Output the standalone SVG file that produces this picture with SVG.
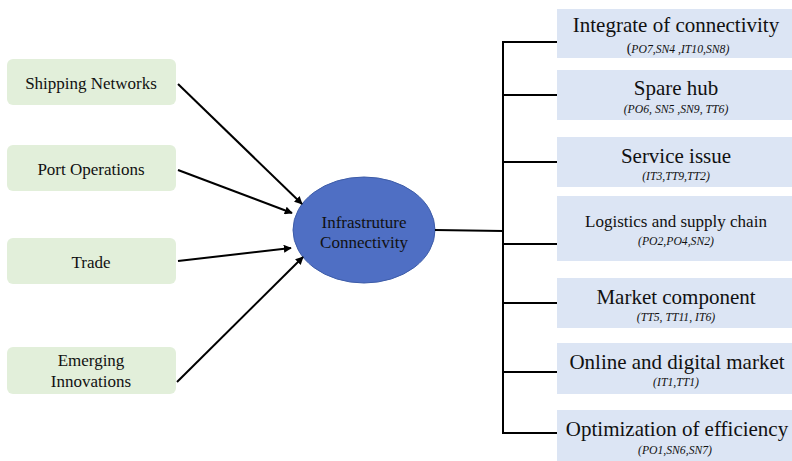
<svg xmlns="http://www.w3.org/2000/svg" width="792" height="461" viewBox="0 0 792 461" font-family="'Liberation Serif', 'DejaVu Serif', 'Times New Roman', serif">
  <style>
    .src rect { fill: #e2efda; }
    .out rect { fill: #dce5f4; }
    text { fill: #111; text-anchor: middle; }
    .lbl { font-size: 17px; }
    .ttl { font-size: 21px; }
    .sub { font-size: 11.7px; font-style: italic; }
    .conn { stroke: #000; stroke-width: 2; fill: none; }
    .arr { stroke: #000; stroke-width: 2; fill: none; marker-end: url(#head); }
  </style>
  <defs>
    <marker id="head" viewBox="0 0 10 10" refX="9" refY="5" markerWidth="4" markerHeight="4" orient="auto" markerUnits="strokeWidth">
      <path d="M0,0 L10,5 L0,10 z" fill="#000"/>
    </marker>
  </defs>
  <rect width="792" height="461" fill="#fff"/>

  <!-- input factors -->
  <g id="shipping" class="src">
    <rect x="7" y="59" width="169" height="46" rx="6"/>
    <text class="lbl" x="91" y="89" font-family="Liberation Serif">Shipping Networks</text>
  </g>
  <g id="port" class="src">
    <rect x="7" y="145" width="169" height="46" rx="6"/>
    <text class="lbl" x="91" y="175" font-family="Liberation Serif">Port Operations</text>
  </g>
  <g id="trade" class="src">
    <rect x="7" y="238" width="169" height="46" rx="6"/>
    <text class="lbl" x="91" y="268" font-family="Liberation Serif">Trade</text>
  </g>
  <g id="innovations" class="src">
    <rect x="7" y="347" width="169" height="47" rx="6"/>
    <text class="lbl" x="91" y="366" font-family="Liberation Serif">Emerging</text>
    <text class="lbl" x="91" y="387" font-family="Liberation Serif">Innovations</text>
  </g>

  <!-- central node -->
  <g id="infrastructure">
    <ellipse cx="364" cy="230" rx="71" ry="53" fill="#4f6fc4" stroke="#3d5ca8" stroke-width="1"/>
    <text class="lbl" x="364" y="228" font-family="Liberation Serif">Infrastruture</text>
    <text class="lbl" x="364" y="248" font-family="Liberation Serif">Connectivity</text>
  </g>

  <!-- outcome themes -->
  <g id="integrate" class="out">
    <rect x="557" y="9" width="235" height="49"/>
    <text class="ttl" x="676" y="32" font-family="Liberation Serif">Integrate of connectivity</text>
    <text class="sub" x="678" y="53" font-family="Liberation Serif"><tspan font-style="normal" font-size="14px">(</tspan>PO7,SN4 ,IT10,SN8)</text>
  </g>
  <g id="spare-hub" class="out">
    <rect x="557" y="70" width="235" height="50"/>
    <text class="ttl" x="676" y="95" font-family="Liberation Serif">Spare hub</text>
    <text class="sub" x="676" y="113" font-family="Liberation Serif">(PO6, SN5 ,SN9, TT6)</text>
  </g>
  <g id="service" class="out">
    <rect x="557" y="137" width="235" height="50"/>
    <text class="ttl" x="676" y="163" font-family="Liberation Serif">Service issue</text>
    <text class="sub" x="676" y="180" font-family="Liberation Serif">(IT3,TT9,TT2)</text>
  </g>
  <g id="logistics" class="out">
    <rect x="557" y="196" width="235" height="65"/>
    <text class="lbl" x="676" y="227" font-family="Liberation Serif">Logistics and supply chain</text>
    <text class="sub" x="676" y="245" font-family="Liberation Serif">(PO2,PO4,SN2)</text>
  </g>
  <g id="market" class="out">
    <rect x="557" y="278" width="235" height="50"/>
    <text class="ttl" x="676" y="304" font-family="Liberation Serif">Market component</text>
    <text class="sub" x="676" y="321" font-family="Liberation Serif">(TT5, TT11, IT6)</text>
  </g>
  <g id="online" class="out">
    <rect x="557" y="343" width="235" height="51"/>
    <text class="ttl" x="677" y="369" font-family="Liberation Serif">Online and digital market</text>
    <text class="sub" x="676" y="386" font-family="Liberation Serif">(IT1,TT1)</text>
  </g>
  <g id="optimization" class="out">
    <rect x="557" y="410" width="235" height="51"/>
    <text class="ttl" x="677" y="436" font-family="Liberation Serif">Optimization of efficiency</text>
    <text class="sub" x="675" y="454" font-family="Liberation Serif">(PO1,SN6,SN7)</text>
  </g>

  <!-- connectors -->
  <g id="connectors">
    <line class="arr" x1="178" y1="84" x2="302" y2="204"/>
    <line class="arr" x1="178" y1="170" x2="292" y2="213"/>
    <line class="arr" x1="178" y1="261" x2="291" y2="248"/>
    <line class="arr" x1="177" y1="382" x2="303" y2="257"/>
    <line class="conn" x1="435" y1="230" x2="503" y2="231"/>
    <polyline class="conn" points="557,42 503,42 503,433 557,433"/>
    <line class="conn" x1="503" y1="95" x2="557" y2="95"/>
    <line class="conn" x1="503" y1="162" x2="557" y2="162"/>
    <line class="conn" x1="503" y1="244" x2="557" y2="244"/>
    <line class="conn" x1="503" y1="303" x2="557" y2="303"/>
    <line class="conn" x1="503" y1="372" x2="557" y2="372"/>
  </g>
</svg>
